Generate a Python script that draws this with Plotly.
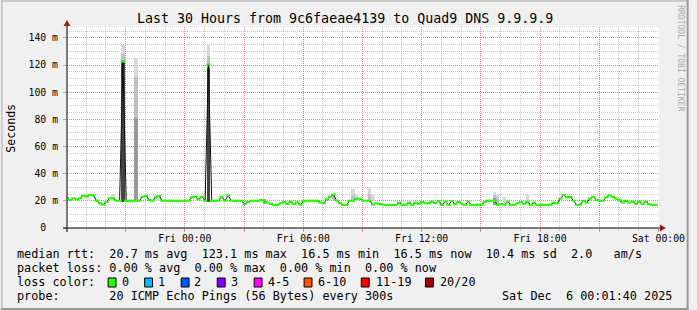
import plotly.graph_objects as go
import pandas as pd

# ---------------- data ----------------
start_time = "2025-12-04 18:01:40"
end_time = "2025-12-06 00:01:40"

# median RTT (ms), one value per 10 minutes
median_rtt = [
    21.9, 20.6, 21.9, 21.0, 21.9, 23.8, 23.1, 24.3, 24.1, 20.1,
    18.2, 17.2, 19.2, 21.9, 21.9, 20.1, 20.1, 122.5, 20.1, 20.1,
    20.1, 20.1, 20.1, 23.0, 23.6, 20.6, 20.1, 22.6, 23.6, 20.1,
    20.1, 20.1, 20.1, 20.1, 20.1, 20.1, 20.1, 20.1, 22.6, 23.1,
    21.1, 23.1, 20.1, 120.5, 20.1, 20.1, 20.1, 23.1, 20.1, 23.8,
    20.1, 20.1, 20.1, 20.1, 17.7, 19.2, 20.1, 20.1, 20.1, 20.6,
    20.1, 18.7, 17.7, 17.0, 17.0, 18.2, 19.2, 17.7, 19.4, 17.7,
    18.9, 17.2, 19.7, 20.1, 20.1, 20.1, 20.1, 18.7, 18.2, 21.1,
    23.1, 24.6, 20.1, 18.2, 17.0, 17.0, 20.1, 20.1, 21.6, 21.6,
    20.1, 20.1, 20.1, 17.2, 18.2, 17.7, 17.2, 17.0, 17.0, 17.0,
    17.0, 18.7, 17.0, 17.2, 18.7, 17.0, 18.7, 17.7, 19.2, 18.2,
    18.2, 19.4, 18.2, 19.9, 17.0, 19.4, 17.0, 19.9, 17.7, 19.2,
    17.9, 17.0, 19.4, 17.0, 17.0, 17.2, 17.0, 19.2, 20.1, 20.1,
    19.9, 17.0, 17.7, 17.2, 19.4, 17.0, 17.0, 18.2, 19.2, 17.7,
    19.4, 17.0, 18.7, 17.0, 17.2, 17.0, 17.0, 17.2, 18.7, 18.2,
    21.6, 24.3, 22.6, 23.1, 20.1, 17.0, 17.2, 20.1, 18.7, 21.6,
    23.1, 20.6, 20.1, 20.1, 22.6, 24.1, 23.1, 21.6, 20.6, 18.7,
    20.1, 18.7, 19.4, 17.7, 19.4, 17.7, 19.4, 17.7, 17.0, 17.0,
]

# smoke (ping spread) where it is visible: sample index, base and band tops (ms)
smoke_idx = [14, 17, 21, 27, 28, 43, 60, 81, 87, 88, 92, 93, 130, 131, 133, 140]
smoke_base = [20, 19, 20, 20, 20, 19, 17.5, 20, 20, 20, 20, 20, 17, 17, 17, 17]
smoke_outer = [25, 135, 125, 24.5, 24.5, 135, 21, 26, 28.5, 25, 30, 24, 26.8, 24, 23, 24]
smoke_mid = [None, 128, 111, None, None, 127, None, 24.5, 24, None, 25, None, 24.3, 22, None, None]
smoke_inner = [None, 124, 81, None, None, 121, 21, None, None, None, None, None, 22, None, None, None]
smoke_core = [None, 122, None, None, None, 118, None, None, None, None, None, None, None, None, None, None]

x_tick_times = ["2025-12-04 21:00", "2025-12-05 00:00", "2025-12-05 03:00", "2025-12-05 06:00",
                "2025-12-05 09:00", "2025-12-05 12:00", "2025-12-05 15:00", "2025-12-05 18:00",
                "2025-12-05 21:00", "2025-12-06 00:00"]
x_tick_labels = ["", "Fri 00:00", "", "Fri 06:00", "", "Fri 12:00", "", "Fri 18:00", "", "Sat 00:00"]
y_tick_vals = [0, 20, 40, 60, 80, 100, 120, 140]
y_tick_labels = ["0\u00a0\u00a0", "20 m", "40 m", "60 m", "80 m", "100 m", "120 m", "140 m"]

title_text = "Last 30 Hours from 9c6faeae4139 to Quad9 DNS 9.9.9.9"
legend_lines = [
    "median rtt:  20.7 ms avg  123.1 ms max  16.5 ms min  16.5 ms now  10.4 ms sd  2.0   am/s",
    "packet loss: 0.00 % avg  0.00 % max  0.00 % min  0.00 % now",
    "loss color:",
    "probe:       20 ICMP Echo Pings (56 Bytes) every 300s",
]
date_text = "Sat Dec  6 00:01:40 2025"
loss_labels = ["0", "1", "2", "3", "4-5", "6-10", "11-19", "20/20"]
loss_colors = ["#26ff00", "#00b8ff", "#0059ff", "#7e00ff", "#ff00ff", "#ff5500", "#ff0000", "#a10000"]

# ---------------- figure ----------------
W, H = 697, 310
L, R, T, B = 67, 667, 27, 228
FONT = "DejaVu Sans Mono"


def px(x):
    return (x - L) / (R - L)


def py(y):
    return (B - y) / (B - T)


times = pd.date_range(start_time, periods=len(median_rtt), freq="10min")
smoke_times = [times[i] for i in smoke_idx]

fig = go.Figure()
bar_w = 10 * 60 * 1000
for tops, col in [(smoke_outer, "#d8d8d8"), (smoke_mid, "#c0c0c0"),
                  (smoke_inner, "#9a9a9a"), (smoke_core, "#444444")]:
    xs, bs, hs = [], [], []
    for t, b0, tp in zip(smoke_times, smoke_base, tops):
        if tp is not None:
            xs.append(t)
            bs.append(b0)
            hs.append(tp - b0)
    fig.add_trace(go.Bar(x=xs, y=hs, base=bs, width=bar_w, marker=dict(color=col, line=dict(width=0)),
                         hoverinfo="skip", showlegend=False))

fig.add_trace(go.Scatter(x=times, y=median_rtt, mode="lines", line=dict(color="#101010", width=1),
                         hoverinfo="skip", showlegend=False))
fig.add_trace(go.Scatter(x=times, y=median_rtt, mode="markers",
                         marker=dict(symbol="line-ew", size=3, color=loss_colors[0],
                                     line=dict(color=loss_colors[0], width=2)),
                         hoverinfo="skip", showlegend=False))

major_grid = "rgba(225,110,110,0.7)"
minor_grid = "rgba(150,150,150,0.5)"

fig.update_layout(
    width=W, height=H, autosize=False,
    margin=dict(l=L, r=W - R, t=T, b=H - B, pad=0),
    paper_bgcolor="#f0f0f0", plot_bgcolor="#ffffff",
    barmode="overlay", bargap=0,
    font=dict(family=FONT, color="#000000"),
    xaxis=dict(
        type="date", range=[start_time, end_time],
        tickmode="array", tickvals=x_tick_times, ticktext=x_tick_labels,
        showgrid=True, gridcolor=major_grid, griddash="1px,1px", gridwidth=1,
        ticks="outside", ticklen=3, tickcolor=major_grid,
        tickfont=dict(size=9.8, family=FONT, color="#000"),
        ticklabelstandoff=-2,
        minor=dict(dtick=3600000, tick0="2025-12-04 00:00", showgrid=True,
                   gridcolor=minor_grid, griddash="1px,1px", gridwidth=1,
                   ticks="outside", ticklen=2, tickcolor=minor_grid),
        showline=False, zeroline=False, fixedrange=True,
    ),
    yaxis=dict(
        range=[0, 148], tickmode="array", tickvals=y_tick_vals, ticktext=y_tick_labels,
        showgrid=True, gridcolor=major_grid, griddash="1px,1px", gridwidth=1,
        ticks="outside", ticklen=3, tickcolor=major_grid,
        tickfont=dict(size=9.8, family=FONT, color="#000"),
        minor=dict(dtick=5, tick0=0, showgrid=True, gridcolor=minor_grid,
                   griddash="1px,1px", gridwidth=1),
        showline=False, zeroline=False, fixedrange=True, ticklabelstandoff=3,
    ),
)

anns = []
anns.append(dict(text=title_text, x=px(348.5), y=py(19), xref="paper", yref="paper",
                 xanchor="center", yanchor="middle", showarrow=False,
                 font=dict(family=FONT, size=13.3, color="#000")))
anns.append(dict(text="Seconds", x=px(10), y=py(128), xref="paper", yref="paper",
                 xanchor="center", yanchor="middle", showarrow=False, textangle=-90,
                 font=dict(family=FONT, size=11.6, color="#000")))
anns.append(dict(text="RRDTOOL / TOBI OETIKER", x=px(688), y=py(58), xref="paper", yref="paper",
                 xanchor="center", yanchor="middle", showarrow=False, textangle=90,
                 font=dict(family=FONT, size=8, color="#a8a8a8")))
line_y = [253.5, 267.5, 281.5, 295.5]
for txt, yy in zip(legend_lines, line_y):
    anns.append(dict(text=txt.replace(" ", "\u00a0"), x=px(14), y=py(yy), xref="paper", yref="paper",
                     xanchor="left", yanchor="middle", showarrow=False,
                     font=dict(family=FONT, size=11.8, color="#000")))
anns.append(dict(text=date_text.replace(" ", "\u00a0"), x=px(682), y=py(295.5), xref="paper", yref="paper",
                 xanchor="right", yanchor="middle", showarrow=False,
                 font=dict(family=FONT, size=11.8, color="#000")))

box_x = [108.7, 145.7, 182.7, 219.3, 256.7, 307.3, 365.3, 430.3]
label_x = [121.0, 157.5, 194.0, 230.8, 268.2, 319.0, 378.0, 443.0]
shapes = []
for lab, col, bx, lx in zip(loss_labels, loss_colors, box_x, label_x):
    shapes.append(dict(type="rect", xref="paper", yref="paper", x0=px(bx), x1=px(bx + 8),
                       y0=py(287), y1=py(278), fillcolor=col, line=dict(color="#000", width=1)))
    anns.append(dict(text=lab, x=px(lx), y=py(281.5), xref="paper", yref="paper",
                     xanchor="left", yanchor="middle", showarrow=False,
                     font=dict(family=FONT, size=11.8, color="#000")))

# axes with arrows
shapes.append(dict(type="line", xref="paper", yref="paper", x0=px(63), x1=px(669), y0=py(228), y1=py(228),
                   line=dict(color="#000", width=1)))
shapes.append(dict(type="line", xref="paper", yref="paper", x0=px(67), x1=px(67), y0=py(232), y1=py(25),
                   line=dict(color="#000", width=1)))
shapes.append(dict(type="path", xref="paper", yref="paper",
                   path=f"M {px(668)} {py(224.5)} L {px(674)} {py(228)} L {px(668)} {py(231.5)} Z",
                   fillcolor="#9b1c1c", line=dict(width=0)))
shapes.append(dict(type="path", xref="paper", yref="paper",
                   path=f"M {px(63.5)} {py(26)} L {px(67)} {py(20)} L {px(70.5)} {py(26)} Z",
                   fillcolor="#9b1c1c", line=dict(width=0)))
# image border shading
shapes.append(dict(type="line", xref="paper", yref="paper", x0=px(0), x1=px(697), y0=py(1), y1=py(1),
                   line=dict(color="#cbcbcb", width=2)))
shapes.append(dict(type="line", xref="paper", yref="paper", x0=px(1), x1=px(1), y0=py(0), y1=py(310),
                   line=dict(color="#cbcbcb", width=2)))
shapes.append(dict(type="line", xref="paper", yref="paper", x0=px(0), x1=px(697), y0=py(309), y1=py(309),
                   line=dict(color="#999999", width=2)))
shapes.append(dict(type="line", xref="paper", yref="paper", x0=px(696), x1=px(696), y0=py(0), y1=py(310),
                   line=dict(color="#999999", width=2)))

fig.update_layout(annotations=anns, shapes=shapes)
fig.write_html("out.html", config={"displayModeBar": False})
